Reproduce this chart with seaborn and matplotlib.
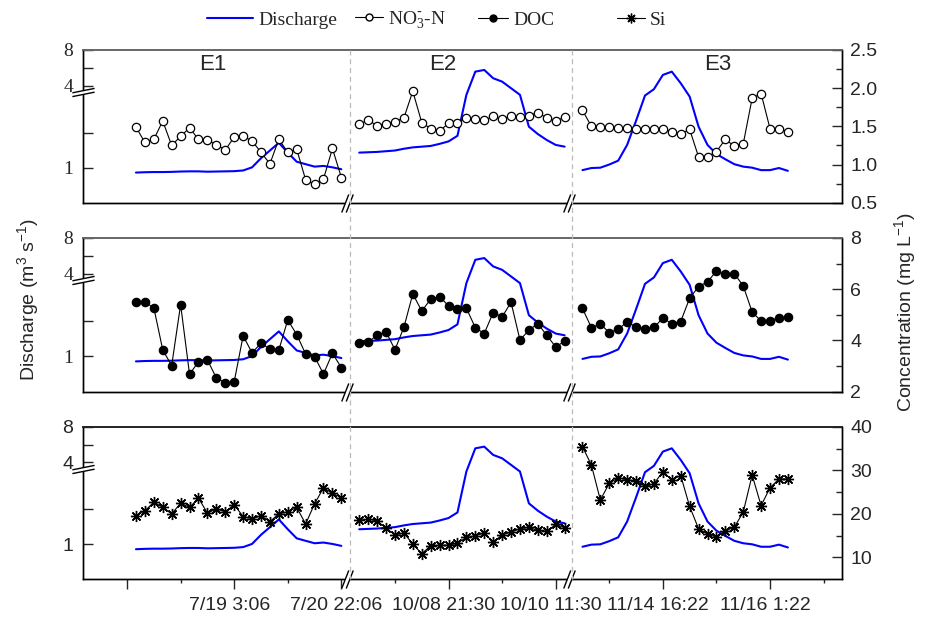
import numpy as np
import pandas as pd
import matplotlib
matplotlib.use("Agg")
import matplotlib.pyplot as plt
import matplotlib.transforms as mtransforms
from matplotlib.path import Path
from matplotlib.lines import Line2D
import seaborn as sns

# ---------------- data ----------------
events = ["E1", "E2", "E3"]

q_e1 = [0.86, 0.87, 0.875, 0.875, 0.88, 0.89, 0.895, 0.895, 0.885, 0.89, 0.895, 0.90,
        0.92, 1.01, 1.27, 1.49, 1.71, 1.43, 1.17, 1.10, 1.03, 1.05, 1.01, 0.955]
q_e2 = [1.43, 1.44, 1.45, 1.47, 1.49, 1.54, 1.58, 1.60, 1.62, 1.68, 1.75, 1.91,
        3.08, 5.57, 5.76, 4.83, 4.45, 3.71, 3.08, 2.17, 1.96, 1.79, 1.65, 1.60]
q_e3 = [0.93, 0.99, 1.00, 1.09, 1.20, 1.65, 2.34, 3.06, 3.60, 5.20, 5.57, 4.27,
        3.03, 2.17, 1.65, 1.39, 1.24, 1.10, 1.03, 1.00, 0.93, 0.93, 0.99, 0.91]

no3_e1 = [1.49, 1.29, 1.33, 1.57, 1.25, 1.37, 1.48, 1.33, 1.32, 1.26, 1.19, 1.36,
          1.37, 1.31, 1.16, 1.01, 1.33, 1.16, 1.20, 0.80, 0.74, 0.81, 1.21, 0.83]
no3_e2 = [1.53, 1.58, 1.51, 1.53, 1.56, 1.61, 1.96, 1.55, 1.47, 1.44, 1.54, 1.54,
          1.61, 1.59, 1.58, 1.63, 1.59, 1.64, 1.62, 1.64, 1.68, 1.61, 1.57, 1.62]
no3_e3 = [1.71, 1.50, 1.49, 1.49, 1.48, 1.48, 1.47, 1.47, 1.46, 1.47, 1.43, 1.40,
          1.46, 1.10, 1.10, 1.17, 1.33, 1.24, 1.27, 1.87, 1.93, 1.47, 1.47, 1.43]

doc_e1 = [5.52, 5.49, 5.28, 3.63, 3.02, 5.40, 2.68, 3.17, 3.24, 2.54, 2.35, 2.39,
          4.18, 3.52, 3.89, 3.67, 3.63, 4.80, 4.23, 3.47, 3.37, 2.69, 3.50, 2.94]
doc_e2 = [3.89, 3.93, 4.21, 4.34, 3.64, 4.51, 5.82, 5.15, 5.61, 5.71, 5.35, 5.22,
          5.26, 4.50, 4.27, 5.09, 4.92, 5.49, 4.02, 4.40, 4.66, 4.20, 3.75, 3.97]
doc_e3 = [5.25, 4.50, 4.64, 4.31, 4.44, 4.72, 4.53, 4.45, 4.51, 4.87, 4.66, 4.74,
          5.65, 6.10, 6.29, 6.71, 6.58, 6.61, 6.13, 5.11, 4.76, 4.77, 4.89, 4.90]

si_e1 = [19.55, 20.7, 22.7, 21.5, 20.0, 22.45, 21.5, 23.6, 20.2, 21.1, 20.5, 22.1,
         19.4, 18.9, 19.55, 18.25, 20.0, 20.5, 21.5, 17.7, 22.3, 26.0, 24.7, 23.75]
si_e2 = [18.5, 18.8, 18.4, 16.7, 15.2, 15.6, 13.1, 10.85, 12.7, 12.8, 12.8, 13.3,
         14.6, 15.0, 15.6, 13.5, 15.2, 15.8, 16.6, 16.9, 16.2, 16.0, 17.6, 16.8]
si_e3 = [35.4, 31.2, 23.2, 27.0, 28.3, 27.8, 27.6, 26.3, 26.9, 29.7, 27.8, 28.8,
         21.7, 16.6, 15.35, 14.7, 16.1, 16.95, 20.4, 28.9, 21.9, 26.0, 28.0, 28.0]

x_tick_labels = ["", "7/19 3:06", "7/20 22:06", "10/08 21:30",
                 "10/10 11:30", "11/14 16:22", "11/16 1:22"]
legend_labels = ["Discharge", r"NO$_3^{\text{-}}$-N", "DOC", "Si"]

# ---------------- layout / style constants ----------------
event_start = {"E1": 0, "E2": 25, "E3": 50}
x_major = [-1, 11, 23, 35, 47, 59, 71]
x_minor = [5, 17, 29, 41, 53, 65, 77]
separators = [24.0, 48.85]
breaks_x = [23.65, 48.5]
XLIM = (-5.93, 79.06)
event_label_x = [8.6, 34.4, 65.1]
legend_x_px = [207, 355, 478, 617]
legend_hlen = [2.37, 1.45, 1.55, 1.45]

rows = []
for ev, q, n, d, s in zip(events, [q_e1, q_e2, q_e3], [no3_e1, no3_e2, no3_e3],
                          [doc_e1, doc_e2, doc_e3], [si_e1, si_e2, si_e3]):
    for i in range(len(q)):
        rows.append(dict(event=ev, x=event_start[ev] + i, q=q[i],
                         no3=n[i], doc=d[i], si=s[i]))
df = pd.DataFrame(rows)

sns.set_style("ticks")
plt.rcParams["font.family"] = ["Liberation Sans", "DejaVu Sans"]
plt.rcParams["mathtext.default"] = "regular"
SERIF = ["Liberation Serif", "DejaVu Serif"]
FS = 14

# broken discharge axis: linear 0-3.12 (lower part), compressed linear above
K_LO, K_HI, S4, B = 35.0, 8.9, 117.0, 3.12


def fwd(v):
    v = np.asarray(v, dtype=float)
    return np.where(v <= B, K_LO * v, S4 + K_HI * (v - 4.0))


def inv(s):
    s = np.asarray(s, dtype=float)
    return np.where(s <= K_LO * B, s / K_LO, 4.0 + (s - S4) / K_HI)


def seg_path(segs, closed=False):
    verts, codes = [], []
    for seg in segs:
        for k, p in enumerate(seg):
            verts.append(p)
            codes.append(Path.MOVETO if k == 0 else Path.LINETO)
        if closed:
            verts.append(seg[0])
            codes.append(Path.CLOSEPOLY)
    return Path(verts, codes)


# bottom "//" break
bx = 0.39
bot_lines = seg_path([[(-0.25 - bx, -1), (-0.25 + bx, 1)], [(0.25 - bx, -1), (0.25 + bx, 1)]])
bot_mask = seg_path([[(-0.64, -1), (-0.14, -1), (0.64, 1), (0.14, 1)]], closed=True)
# left "=" break
left_lines = seg_path([[(-1, -0.37), (1, 0.03)], [(-1, -0.03), (1, 0.37)]])
left_mask = seg_path([[(-1, -0.37), (1, 0.03), (1, 0.37), (-1, -0.03)]], closed=True)

fig = plt.figure(figsize=(9.28, 6.19), dpi=100)
W_PX, H_PX = 928, 619
L = 83 / W_PX
WID = (842 - 83) / W_PX
panels = [(50, 202.7), (238, 391.7), (426.7, 579.3)]

series = [
    ("no3", dict(marker="o", markersize=6, markerfacecolor="white",
                 markeredgecolor="black", markeredgewidth=0.9)),
    ("doc", dict(marker="o", markersize=6, markerfacecolor="black",
                 markeredgecolor="black", markeredgewidth=0.9)),
    ("si", dict(marker=(8, 2, 0), markersize=8, markerfacecolor="black",
                markeredgecolor="black", markeredgewidth=1.0)),
]
right_lims = [(0.5, 2.5), (2, 8), (5, 40)]
right_major = [[0.5, 1.0, 1.5, 2.0, 2.5], [2, 4, 6, 8], [10, 20, 30, 40]]
right_major_lbl = [["0.5", "1.0", "1.5", "2.0", "2.5"], ["2", "4", "6", "8"],
                   ["10", "20", "30", "40"]]
right_minor = [[0.75, 1.25, 1.75, 2.25], [3, 5, 7], [15, 25, 35]]

axes = []
for p, (top, bot) in enumerate(panels):
    ax = fig.add_axes([L, 1 - bot / H_PX, WID, (bot - top) / H_PX])
    sns.lineplot(data=df, x="x", y="q", units="event", estimator=None,
                 color="#0000FF", linewidth=1.5, ax=ax, legend=False)
    ax.set_yscale("function", functions=(fwd, inv))
    ax.set_ylim(0, 8)
    ax.set_xlim(*XLIM)
    ax.set_xlabel("")
    ax.set_ylabel("")
    left_font = SERIF if p < 2 else ["Liberation Sans", "DejaVu Sans"]
    ax.set_yticks([1, 4, 8], labels=["1", "4", "8"], fontsize=FS, fontfamily=left_font)
    ax.set_yticks([2, 6], minor=True)
    ax.tick_params(axis="y", which="both", direction="in", length=7, width=1,
                   pad=7, left=True, right=False)

    axr = ax.twinx()
    col, kws = series[p]
    sns.lineplot(data=df, x="x", y=col, units="event", estimator=None,
                 color="black", linewidth=0.8, ax=axr, legend=False, **kws)
    axr.set_ylim(*right_lims[p])
    axr.set_xlim(*XLIM)
    axr.set_ylabel("")
    axr.set_yticks(right_major[p], labels=right_major_lbl[p], fontsize=FS)
    axr.set_yticks(right_minor[p], minor=True)
    axr.tick_params(axis="y", which="major", direction="in", length=7, width=1, pad=6)
    axr.tick_params(axis="y", which="minor", direction="in", length=4, width=1)

    top_col = "#666666" if p < 2 else "#222222"
    for a in (ax, axr):
        for side in ("left", "right", "bottom"):
            a.spines[side].set_color("black")
            a.spines[side].set_linewidth(1.0)
            a.spines[side].set_visible(True)
        a.spines["top"].set_color(top_col)
        a.spines["top"].set_linewidth(1.2)
        a.spines["top"].set_visible(True)

    if p < 2:
        ax.tick_params(axis="x", which="both", bottom=False, labelbottom=False)
    else:
        ax.set_xticks(x_major, labels=x_tick_labels, fontsize=FS)
        ax.set_xticks(x_minor, minor=True)
        ax.tick_params(axis="x", which="major", direction="out", length=7, width=1, pad=6)
        ax.tick_params(axis="x", which="minor", direction="out", length=3, width=1)

    # axis-break marks
    tr_bottom = mtransforms.blended_transform_factory(axr.transData, axr.transAxes)
    for bxp in breaks_x:
        axr.plot([bxp], [0], transform=tr_bottom, marker=bot_mask, markersize=13,
                 markerfacecolor="white", markeredgewidth=0, linestyle="none",
                 clip_on=False, zorder=20)
        axr.plot([bxp], [0], transform=tr_bottom, marker=bot_lines, markersize=13,
                 markerfacecolor="none", markeredgecolor="black", markeredgewidth=1.0,
                 linestyle="none", clip_on=False, zorder=21)
    axr.plot([0], [0.725], transform=axr.transAxes, marker=left_mask, markersize=16,
             markerfacecolor="white", markeredgewidth=0, linestyle="none",
             clip_on=False, zorder=20)
    axr.plot([0], [0.725], transform=axr.transAxes, marker=left_lines, markersize=16,
             markerfacecolor="none", markeredgecolor="black", markeredgewidth=1.0,
             linestyle="none", clip_on=False, zorder=21)
    axes.append((ax, axr))

# event labels in the top panel
ax0 = axes[0][0]
tr_ev = mtransforms.blended_transform_factory(ax0.transData, ax0.transAxes)
for ev, xe in zip(events, event_label_x):
    ax0.text(xe, 0.905, ev, transform=tr_ev, ha="center", va="center", fontsize=16)

# dashed separators spanning all three panels
ax_bot = axes[2][0]
tr_sep = mtransforms.blended_transform_factory(ax_bot.transData, fig.transFigure)
for sx in separators:
    fig.add_artist(Line2D([sx, sx], [1 - 50 / H_PX, 1 - 579.3 / H_PX], transform=tr_sep,
                          color="#BBBBBB", linestyle=(0, (4, 3)), linewidth=0.9))

# axis titles
fig.text(28 / W_PX, 1 - 300 / H_PX, "Discharge (m$^3$ s$^{-1}$)", rotation=90,
         ha="center", va="center", fontsize=FS)
fig.text(905 / W_PX, 1 - 312 / H_PX, "Concentration (mg L$^{-1}$)", rotation=90,
         ha="center", va="center", fontsize=FS)

# legend (one entry per legend so each can sit where the reference has it)
handles = [
    Line2D([], [], color="#0000FF", linewidth=1.5),
    Line2D([], [], color="black", linewidth=0.8, marker="o", markersize=5,
           markerfacecolor="white", markeredgecolor="black"),
    Line2D([], [], color="black", linewidth=0.8, marker="o", markersize=5,
           markerfacecolor="black", markeredgecolor="black"),
    Line2D([], [], color="black", linewidth=0.8, marker=(8, 2, 0), markersize=7,
           markeredgecolor="black"),
]
for h, lbl, xp, hl in zip(handles, legend_labels, legend_x_px, legend_hlen):
    fig.legend([h], [lbl], loc="center left", bbox_to_anchor=(xp / W_PX, 1 - 20 / H_PX),
               frameon=False, handlelength=hl, handletextpad=0.25, borderpad=0,
               borderaxespad=0, prop={"family": SERIF, "size": FS})

# shift x tick labels slightly left, as in the reference
for lbl in ax_bot.get_xticklabels():
    lbl.set_transform(lbl.get_transform() +
                      mtransforms.ScaledTranslation(-5 / 100, 0, fig.dpi_scale_trans))

fig.savefig("out.png", dpi=100)
